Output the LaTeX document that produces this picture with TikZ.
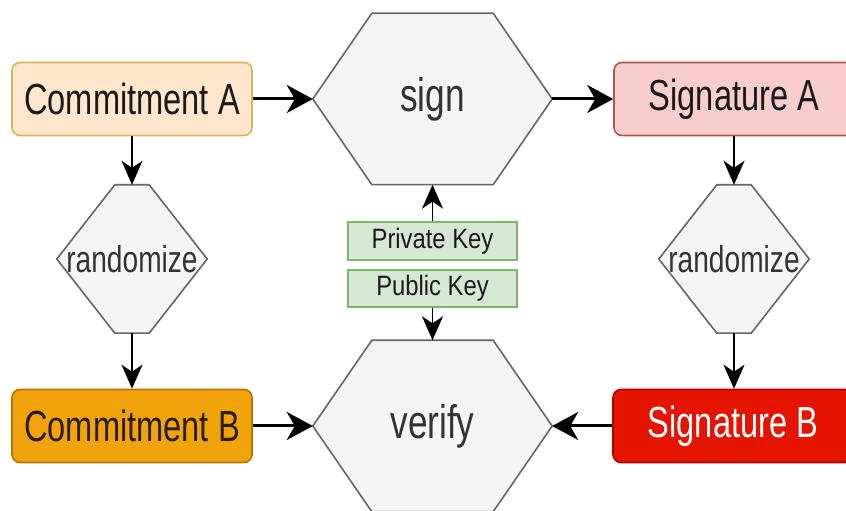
\documentclass[tikz,border=0pt]{standalone}
\usepackage{fontspec}
\usepackage{tikz}
\usepackage{xcolor}
\usetikzlibrary{arrows.meta,positioning,backgrounds}
\newfontfamily\labelfont[FakeStretch=0.75]{Liberation Sans}
\newfontfamily\keyfont[FakeStretch=0.85]{Liberation Sans}
\definecolor{comAfill}{HTML}{FFE6CC}
\definecolor{comAline}{HTML}{D6B656}
\definecolor{comBfill}{HTML}{F0A30A}
\definecolor{comBline}{HTML}{BD7000}
\definecolor{comBtext}{HTML}{2B1D05}
\definecolor{sigAfill}{HTML}{F8CECC}
\definecolor{sigAline}{HTML}{B85450}
\definecolor{sigBfill}{HTML}{E51400}
\definecolor{sigBline}{HTML}{B20000}
\definecolor{opfill}{HTML}{F5F5F5}
\definecolor{opline}{HTML}{666666}
\definecolor{optext}{HTML}{333333}
\definecolor{keyfill}{HTML}{D5E8D4}
\definecolor{keyline}{HTML}{82B366}
\definecolor{ink}{HTML}{1A1A1A}
\tikzset{
  item/.style={rounded corners=8pt, line width=1.6pt, minimum width=240pt,
               minimum height=73pt, inner sep=0pt, text=ink,
               font=\labelfont\fontsize{43.5}{48}\selectfont},
  op/.style={inner sep=0pt, text=optext, font=\labelfont\fontsize{47}{52}\selectfont},
  randop/.style={op, minimum width=150pt, minimum height=148pt,
                 font=\labelfont\fontsize{37.5}{42}\selectfont},
  bigop/.style={op, minimum width=239pt, minimum height=171pt},
  hexline/.style={draw=opline, fill=opfill, line width=1.6pt, line join=miter},
  keybox/.style={draw=keyline, fill=keyfill, line width=1.6pt, minimum width=169pt,
                 minimum height=37pt, inner sep=0pt, text=ink,
                 font=\keyfont\fontsize{28}{32}\selectfont},
  flow/.style={-{Stealth[length=26pt, width=28pt, inset=8pt]}, line width=3pt, draw=black},
  down/.style={-{Stealth[length=24pt, width=21pt, inset=7pt]}, line width=1.8pt, draw=black}
}
\begin{document}
\begin{tikzpicture}[x=1pt,y=1pt]
        \useasboundingbox (0,0) rectangle (846,511);
        % operations
        \node[bigop] (sign) at (432.5,412) {sign};
        \node[bigop] (verify) at (432.5,85) {verify};
        \node[randop] (randA) at (132,252) {randomize};
        \node[randop] (randB) at (734,252) {randomize};
        \begin{scope}[on background layer]
          \fill[white] (0,0) rectangle (846,511);
          \foreach \n/\p in {sign/59,verify/59,randA/58,randB/58}
            {\draw[hexline] (\n.west) -- ([xshift=\p]\n.north west) -- ([xshift=-\p]\n.north east)
               -- (\n.east) -- ([xshift=-\p]\n.south east) -- ([xshift=\p]\n.south west) -- cycle;}
        \end{scope}
        % inputs and outputs
        \node[item,draw=comAline,fill=comAfill] (comA) at (132,412) {Commitment A};
        \node[item,draw=sigAline,fill=sigAfill] (sigA) at (734,412) {Signature A};
        \node[item,draw=comBline,fill=comBfill,text=comBtext] (comB) at (132,85) {Commitment B};
        \node[item,draw=sigBline,fill=sigBfill,text=white] (sigB) at (733,85) {Signature B};
        % keys
        \node[keybox,minimum height=38pt] (privkey) at (432.5,270) {Private Key};
        \node[keybox] (pubkey) at (432.5,222.5) {Public Key};
        % connectors
        \draw[flow] (comA.east) -- (sign.west);
        \draw[flow] (sign.east) -- (sigA.west);
        \draw[flow] (comB.east) -- (verify.west);
        \draw[flow] (sigB.west) -- (verify.east);
        \draw[down] (comA.south) -- (randA.north);
        \draw[down] (randA.south) -- (comB.north);
        \draw[down] (sigA.south) -- (randB.north);
        \draw[down] (randB.south) -- (sigB.north -| randB.south);
        \draw[down] (privkey.north) -- (sign.south);
        \draw[down] (pubkey.south) -- (verify.north);
      \end{tikzpicture}
\end{document}
